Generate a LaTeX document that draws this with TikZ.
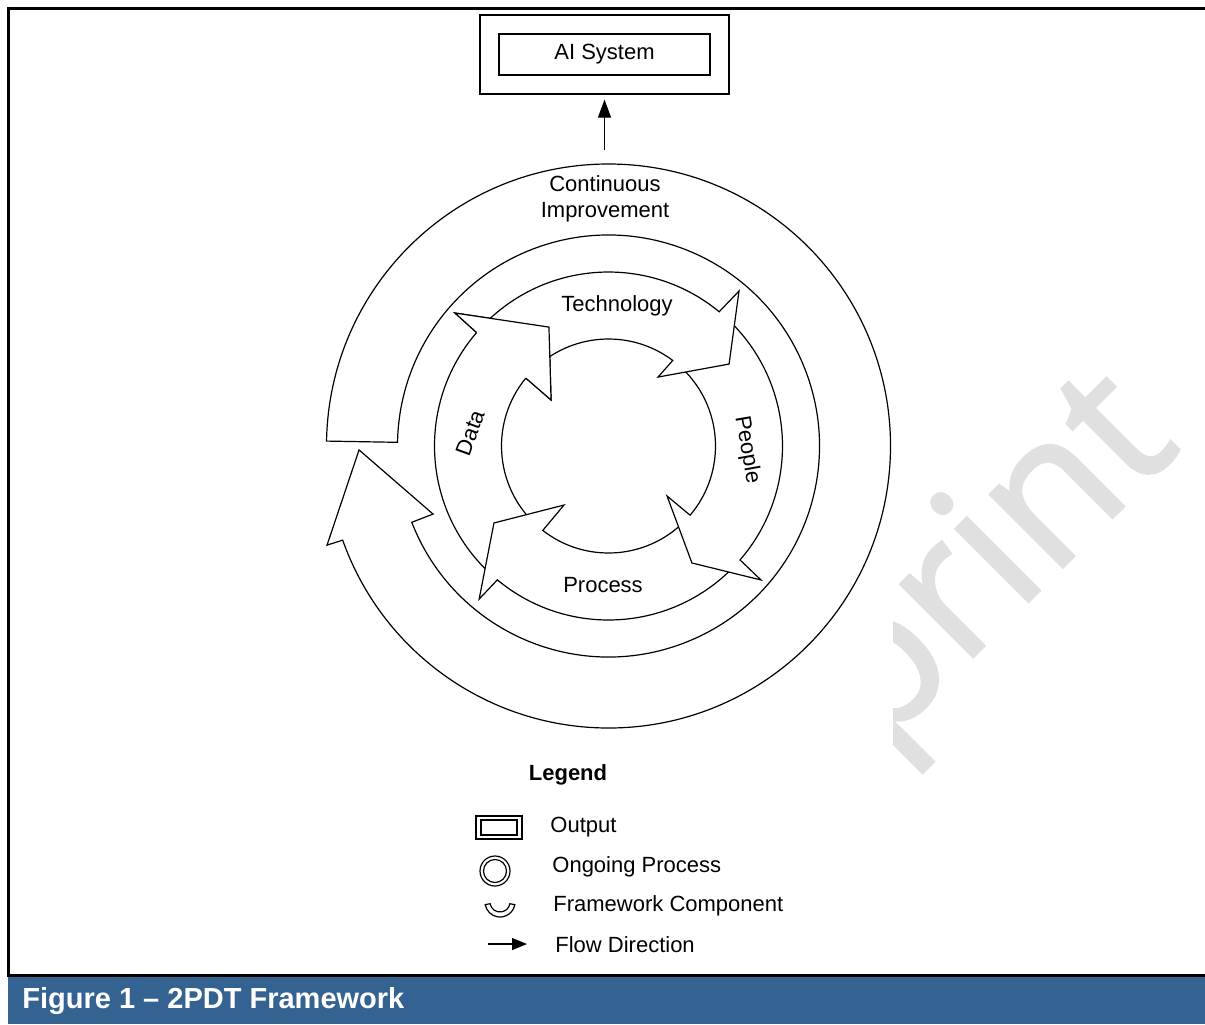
\documentclass[tikz,border=0pt]{standalone}
\usepackage{fontspec}
\setmainfont{Liberation Sans}
\newfontfamily\wmfont{Open Sans}[FakeBold=1.5]
\usetikzlibrary{positioning, fit, arrows.meta}

\definecolor{capblue}{RGB}{53,99,145}
\definecolor{wmgray}{RGB}{224,224,224}

\begin{document}
\begin{tikzpicture}[
    x=0.5pt, y=-0.5pt,
    band/.style={draw, fill=white, line width=0.6pt, line join=miter},
    lbl/.style={inner sep=0pt, font=\fontsize{11}{13}\selectfont},
    outbox/.style={draw, line width=0.8pt, minimum width=105.5pt, minimum height=20.5pt, inner sep=0pt, font=\fontsize{11}{13}\selectfont},
    flow/.style={-{Triangle[length=9pt, width=6.5pt]}, line width=0.6pt}
]
    \useasboundingbox (0,0) rectangle (1205,1024);

    % watermark, hidden behind the figure on the left
    \begin{scope}
        \clip (893,9) rectangle (1205,974);
        \node[wmgray, rotate=45, anchor=base west, inner sep=0pt, font=\wmfont\fontsize{96}{96}\selectfont] (wm) at (878,752) {print};
    \end{scope}

    % frame and caption bar
    \fill[capblue] (8,976) rectangle (1205,1024);
    \draw[line width=1.5pt] (1205,8) -- (8,8) -- (8,975) -- (1205,975);
    \node[anchor=west, inner sep=0pt, text=white, font=\bfseries\fontsize{14.5}{16}\selectfont] (caption) at (22,1001) {Figure 1 – 2PDT Framework};

    % output
    \node[outbox] (ai) at (604.5,54.5) {AI System};
    \node[draw, line width=0.8pt, inner sep=9pt, fit=(ai)] (aiframe) {};
    \coordinate (ringtop) at (604.5,150);
    \draw[flow, shorten >=2.5pt] (ringtop) -- (aiframe.south);

    \begin{scope}[shift={(608.5,446)}]
        % continuous improvement
        \draw[band] (181:282) arc[start angle=181, end angle=520.5, radius=282]
            -- (520.6:298.4) -- (539.1:249.5) -- (518.8:188.2) -- (518.8:211)
            arc[start angle=518.8, end angle=181, radius=211] -- cycle;
        % data
        \draw[band] (133:174) arc[start angle=133, end angle=220.7, radius=174]
            -- (220.9:203.1) -- (243.4:133) -- (218.7:73.6) -- (219.4:107)
            arc[start angle=219.4, end angle=133, radius=107] -- cycle;
        % process
        \draw[band] (45:174) arc[start angle=45, end angle=129.7, radius=174]
            -- (130.2:200.4) -- (146.1:138) -- (127:73.9) -- (127.9:107)
            arc[start angle=127.9, end angle=45, radius=107] -- cycle;
        % people
        \draw[band] (313:174) arc[start angle=313, end angle=400.9, radius=174]
            -- (401.3:203) -- (414.5:143.7) -- (400.5:77) -- (400.3:107)
            arc[start angle=400.3, end angle=313, radius=107] -- cycle;
        % technology
        \draw[band] (225:174) arc[start angle=225, end angle=309.5, radius=174]
            -- (310.1:202.6) -- (325.8:145.8) -- (305.7:84.9) -- (306.9:107)
            arc[start angle=306.9, end angle=225, radius=107] -- cycle;
        % data head again, over the tail of technology
        \fill[white] (220.7:174) -- (220.9:203.1) -- (243.4:133) -- (218.7:73.6) -- (219.4:107) -- cycle;
        \draw[band, fill=none] (220.7:174) -- (220.9:203.1) -- (243.4:133) -- (218.7:73.6) -- (219.4:107);
    \end{scope}

    \node[lbl, align=center] (ci) at (605,199) {Continuous\\Improvement};
    \node[lbl] (tech) at (617,306) {Technology};
    \node[lbl, rotate=-80] (people) at (747,450) {People};
    \node[lbl] (proc) at (603,585) {Process};
    \node[lbl, rotate=70] (data) at (470,433) {Data};

    % legend
    \node[lbl, font=\bfseries\fontsize{11}{13}\selectfont] (legend) at (568,775) {Legend};
    \draw[line width=0.8pt] (476,816) rectangle (522,839) (481,820) rectangle (517,835);
    \draw[line width=0.6pt] (495,871) circle[radius=15] (495,871) circle[radius=11.5];
    \draw[band, shift={(500,902)}] (10:15) arc[start angle=10, end angle=170, radius=15]
        -- (170:10) arc[start angle=170, end angle=10, radius=10] -- cycle;
    \coordinate (fl1) at (488,944);
    \coordinate (fl2) at (527,944);
    \draw[-{Triangle[length=7.5pt, width=6pt]}, line width=0.6pt] (fl1) -- (fl2);
    \node[lbl, anchor=west] (lout) at (550,827) {Output};
    \node[lbl, anchor=west] (lgo) at (552,867) {Ongoing Process};
    \node[lbl, anchor=west] (lfc) at (553,906) {Framework Component};
    \node[lbl, anchor=west] (lfd) at (555,945) {Flow Direction};
\end{tikzpicture}
\end{document}
